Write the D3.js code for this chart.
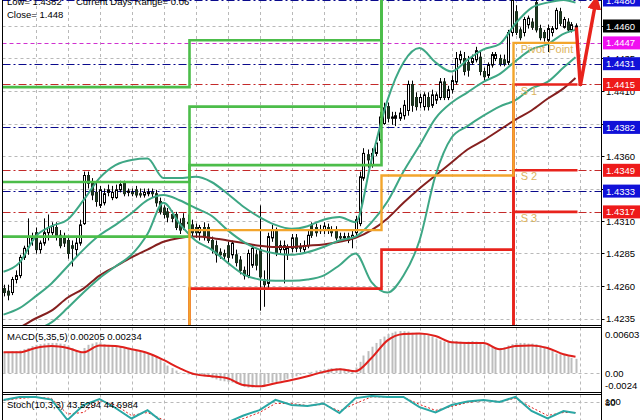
<!DOCTYPE html>
<html><head><meta charset="utf-8">
<script src="https://cdn.jsdelivr.net/npm/d3@7"></script>
<style>
html,body{margin:0;padding:0;background:#fff;overflow:hidden;}
svg{display:block;font-family:"Liberation Sans",Arial,sans-serif;}
</style></head><body>
<svg id="c" width="640" height="420"></svg>
<script>
// ---------- DATA ----------
const opens = [1.4258,1.4256,1.4255,1.4265,1.4268,1.4282,1.4290,1.4295,1.4301,1.4288,
1.4293,1.4301,1.4301,1.4305,1.4299,1.4297,1.4295,1.4291,1.4288,1.4293,
1.4308,1.4345,1.4339,1.4332,1.4322,1.4324,1.4332,1.4328,1.4328,1.4334,
1.4339,1.4332,1.4332,1.4334,1.4331,1.4330,1.4331,1.4332,1.4331,1.4325,
1.4320,1.4317,1.4315,1.4315,1.4308,1.4312,1.4309,1.4307,1.4305,1.4301,
1.4305,1.4305,1.4295,1.4291,1.4286,1.4285,1.4291,1.4284,1.4284,1.4280,
1.4272,1.4268,1.4276,1.4284,1.4288,1.4265,1.4262,1.4297,1.4303,1.4288,
1.4288,1.4284,1.4289,1.4297,1.4290,1.4288,1.4291,1.4307,1.4305,1.4303,
1.4303,1.4305,1.4303,1.4303,1.4298,1.4297,1.4298,1.4297,1.4301,1.4308,
1.4343,1.4361,1.4353,1.4362,1.4372,1.4385,1.4398,1.4389,1.4389,1.4389,
1.4391,1.4395,1.4415,1.4405,1.4401,1.4398,1.4405,1.4399,1.4403,1.4405,
1.4417,1.4405,1.4411,1.4417,1.4434,1.4435,1.4432,1.4432,1.4434,1.4436,
1.4425,1.4422,1.4430,1.4435,1.4435,1.4434,1.4432,1.4455,1.4471,1.4457,
1.4455,1.4461,1.4463,1.4478,1.4458,1.4455,1.4449,1.4455,1.4458,1.4471,
1.4459,1.4463,1.4457,1.4459];
const highs = [1.4261,1.4261,1.4267,1.4272,1.4284,1.4291,1.4312,1.4301,1.4305,1.4295,
1.4312,1.4315,1.4309,1.4309,1.4303,1.4301,1.4298,1.4295,1.4297,1.4311,
1.4348,1.4348,1.4343,1.4340,1.4337,1.4335,1.4338,1.4337,1.4338,1.4341,
1.4341,1.4335,1.4335,1.4337,1.4335,1.4335,1.4335,1.4335,1.4334,1.4328,
1.4322,1.4320,1.4318,1.4317,1.4312,1.4316,1.4315,1.4311,1.4308,1.4307,
1.4309,1.4308,1.4298,1.4295,1.4289,1.4288,1.4294,1.4295,1.4288,1.4283,
1.4275,1.4288,1.4292,1.4288,1.4322,1.4272,1.4301,1.4307,1.4305,1.4295,
1.4295,1.4292,1.4300,1.4300,1.4293,1.4295,1.4303,1.4309,1.4308,1.4307,
1.4309,1.4308,1.4306,1.4306,1.4301,1.4301,1.4301,1.4303,1.4314,1.4348,
1.4366,1.4365,1.4366,1.4374,1.4394,1.4401,1.4401,1.4394,1.4394,1.4397,
1.4403,1.4418,1.4418,1.4409,1.4408,1.4409,1.4409,1.4411,1.4409,1.4420,
1.4420,1.4414,1.4422,1.4440,1.4441,1.4440,1.4437,1.4438,1.4444,1.4440,
1.4428,1.4432,1.4440,1.4440,1.4438,1.4438,1.4457,1.4488,1.4476,1.4459,
1.4467,1.4468,1.4466,1.4488,1.4461,1.4457,1.4461,1.4460,1.4474,1.4474,
1.4467,1.4466,1.4463,1.4462];
const lows = [1.4252,1.4249,1.4253,1.4262,1.4266,1.4280,1.4284,1.4291,1.4285,1.4285,
1.4291,1.4295,1.4299,1.4295,1.4289,1.4290,1.4281,1.4275,1.4283,1.4291,
1.4307,1.4335,1.4326,1.4321,1.4320,1.4322,1.4329,1.4326,1.4327,1.4332,
1.4329,1.4329,1.4329,1.4328,1.4328,1.4328,1.4329,1.4328,1.4321,1.4315,
1.4312,1.4309,1.4309,1.4303,1.4300,1.4303,1.4303,1.4298,1.4297,1.4295,
1.4295,1.4293,1.4285,1.4278,1.4281,1.4280,1.4278,1.4281,1.4275,1.4269,
1.4265,1.4266,1.4274,1.4272,1.4241,1.4244,1.4258,1.4294,1.4283,1.4285,
1.4262,1.4280,1.4286,1.4286,1.4286,1.4285,1.4289,1.4297,1.4298,1.4300,
1.4300,1.4300,1.4298,1.4295,1.4294,1.4295,1.4293,1.4289,1.4298,1.4306,
1.4341,1.4351,1.4351,1.4360,1.4370,1.4384,1.4386,1.4384,1.4383,1.4387,
1.4388,1.4391,1.4394,1.4395,1.4397,1.4395,1.4395,1.4397,1.4400,1.4403,
1.4403,1.4403,1.4408,1.4415,1.4431,1.4422,1.4421,1.4430,1.4432,1.4422,
1.4418,1.4420,1.4428,1.4433,1.4429,1.4429,1.4430,1.4452,1.4453,1.4449,
1.4452,1.4458,1.4457,1.4455,1.4449,1.4448,1.4440,1.4452,1.4457,1.4460,
1.4458,1.4455,1.4455,1.4457];
const closes = [1.4255,1.4253,1.4265,1.4268,1.4282,1.4289,1.4298,1.4297,1.4288,1.4293,
1.4301,1.4305,1.4306,1.4298,1.4291,1.4293,1.4285,1.4289,1.4293,1.4307,
1.4345,1.4339,1.4330,1.4325,1.4334,1.4331,1.4334,1.4332,1.4334,1.4338,
1.4331,1.4333,1.4331,1.4330,1.4330,1.4332,1.4332,1.4331,1.4324,1.4317,
1.4315,1.4313,1.4312,1.4305,1.4303,1.4305,1.4308,1.4301,1.4301,1.4305,
1.4298,1.4295,1.4288,1.4284,1.4284,1.4283,1.4282,1.4293,1.4278,1.4272,
1.4268,1.4285,1.4289,1.4276,1.4267,1.4261,1.4298,1.4303,1.4285,1.4291,
1.4291,1.4289,1.4297,1.4289,1.4289,1.4291,1.4299,1.4299,1.4301,1.4303,
1.4306,1.4303,1.4301,1.4297,1.4297,1.4298,1.4295,1.4299,1.4311,1.4344,
1.4362,1.4357,1.4362,1.4370,1.4390,1.4397,1.4389,1.4390,1.4391,1.4393,
1.4399,1.4415,1.4399,1.4398,1.4405,1.4407,1.4398,1.4407,1.4407,1.4417,
1.4405,1.4411,1.4418,1.4435,1.4438,1.4425,1.4426,1.4435,1.4441,1.4425,
1.4421,1.4430,1.4438,1.4438,1.4431,1.4431,1.4455,1.4480,1.4455,1.4451,
1.4465,1.4466,1.4459,1.4457,1.4451,1.4451,1.4458,1.4458,1.4472,1.4462,
1.4465,1.4457,1.4461,1.4460];

// indicator readings, taken every 4th bar
const sampleBars = [0,4,8,12,16,20,24,28,32,36,40,44,48,52,56,60,64,68,72,76,80,84,88,92,96,100,104,108,112,116,120,124,128,132,136,140,143];
const bbUpper = [1.4271,1.4278,1.4298,1.4306,1.4311,1.4326,1.4343,1.4353,1.4357,1.4358,1.4343,1.4343,1.4344,1.4340,1.4331,1.4321,1.4313,1.4307,1.4304,1.4306,1.4311,1.4313,1.4309,1.4357,1.4403,1.4432,1.4443,1.4432,1.4425,1.4434,1.4442,1.4446,1.4462,1.4474,1.4478,1.4480,1.4478];
const bbMiddle = [1.4238,1.4243,1.4252,1.4262,1.4275,1.4288,1.4299,1.4307,1.4316,1.4326,1.4330,1.4326,1.4320,1.4314,1.4303,1.4294,1.4288,1.4285,1.4284,1.4286,1.4290,1.4295,1.4298,1.4309,1.4325,1.4348,1.4368,1.4389,1.4401,1.4409,1.4417,1.4423,1.4433,1.4442,1.4446,1.4454,1.4457];
const bbLower = [1.4215,1.4220,1.4226,1.4232,1.4243,1.4255,1.4266,1.4275,1.4284,1.4300,1.4324,1.4308,1.4295,1.4288,1.4278,1.4269,1.4265,1.4264,1.4264,1.4265,1.4268,1.4276,1.4285,1.4263,1.4255,1.4268,1.4295,1.4345,1.4374,1.4383,1.4391,1.4398,1.4403,1.4412,1.4417,1.4428,1.4436];
const maSlow = [1.4222,1.4228,1.4235,1.4241,1.4251,1.4258,1.4268,1.4275,1.4282,1.4288,1.4294,1.4297,1.4298,1.4297,1.4295,1.4293,1.4291,1.4290,1.4290,1.4291,1.4292,1.4294,1.4297,1.4303,1.4312,1.4324,1.4335,1.4345,1.4355,1.4365,1.4372,1.4380,1.4388,1.4395,1.4404,1.4412,1.4420];

const macdHist = [0.00297,0.00306,0.00315,0.00315,0.00324,0.00342,0.00360,0.00387,0.00405,0.00414,
0.00423,0.00432,0.00432,0.00432,0.00423,0.00414,0.00396,0.00360,0.00324,0.00306,
0.00360,0.00405,0.00423,0.00441,0.00441,0.00414,0.00405,0.00396,0.00387,0.00378,
0.00369,0.00360,0.00342,0.00333,0.00315,0.00306,0.00288,0.00261,0.00234,0.00198,
0.00153,0.00108,0.00072,0.00036,0.00009,-0.00009,-0.00018,-0.00027,-0.00027,-0.00036,
-0.00045,-0.00054,-0.00072,-0.00090,-0.00108,-0.00117,-0.00126,-0.00135,-0.00153,-0.00171,
-0.00198,-0.00207,-0.00207,-0.00198,-0.00189,-0.00171,-0.00144,-0.00135,-0.00126,-0.00108,
-0.00099,-0.00081,-0.00063,-0.00045,-0.00027,-0.00009,0.00009,0.00018,0.00036,0.00045,
0.00054,0.00063,0.00072,0.00072,0.00072,0.00063,0.00054,0.00045,0.00081,0.00162,
0.00252,0.00315,0.00378,0.00432,0.00487,0.00523,0.00559,0.00577,0.00595,0.00603,
0.00600,0.00595,0.00577,0.00577,0.00568,0.00559,0.00541,0.00523,0.00496,0.00469,
0.00451,0.00451,0.00460,0.00460,0.00451,0.00441,0.00451,0.00460,0.00451,0.00432,
0.00414,0.00396,0.00378,0.00369,0.00360,0.00369,0.00396,0.00414,0.00432,0.00432,
0.00432,0.00423,0.00423,0.00414,0.00396,0.00378,0.00360,0.00315,0.00279,0.00270,
0.00261,0.00240,0.00220,0.00205];
const macdSignal = [0.00297,0.00297,0.00360,0.00387,0.00360,0.00297,0.00396,0.00387,0.00342,0.00288,0.00189,0.00072,-0.00018,-0.00045,-0.00072,-0.00171,-0.00189,-0.00144,-0.00099,-0.00045,0.00018,0.00054,0.00027,0.00216,0.00469,0.00559,0.00568,0.00532,0.00441,0.00432,0.00432,0.00342,0.00387,0.00396,0.00360,0.00270,0.00234];
const stochMain = [87,97,97,88,20,70,90,60,25,53,10,8,10,5,12,35,53,87,70,67,75,43,93,100,97,97,63,45,70,82,87,80,97,50,25,50,43.5294];
const stochSignal = [85,92,96,92,40,45,85,70,35,45,20,10,10,7,10,25,45,75,75,68,72,50,75,97,97,96,72,52,65,78,85,82,92,62,35,45,44.6984];

// daily pivot levels (day start bar, then level per day)
const dayStartBars = [-48, 47, 95, 128];
const lastBar = 143;
const pivR3 = [1.4413, 1.4449, 1.4575, 1.4545];
const pivR2 = [1.4340, 1.4398, 1.4530, 1.4510];
const pivR1 = [1.4298, 1.4353, 1.4495, 1.4490];
const pivPP = [1.4195, 1.4303, 1.4345, 1.4447];
const pivS1 = [1.4170, 1.4258, 1.4288, 1.4415];
const pivS2 = [1.4140, 1.4215, 1.4225, 1.4349];
const pivS3 = [1.4110, 1.4180, 1.4200, 1.4317];
const pivLabels = ["Pivot Point", "S 1", "S 2", "S 3"];

const levelsBlue = [1.4480, 1.4431, 1.4382, 1.4333];
const levelsRed = [1.4415, 1.4349, 1.4317];
const levelsMagenta = [1.4447];
const priceTicks = [1.4235, 1.4260, 1.4285, 1.4310, 1.4335, 1.4360, 1.4385, 1.4410, 1.4435, 1.4460];
const markerPrices = [1.4480, 1.4460, 1.4447, 1.4431, 1.4415, 1.4382, 1.4349, 1.4333, 1.4317];
const markerKinds  = ["blue", "black", "magenta", "blue", "red", "blue", "red", "blue", "red"];
const macdTicks = [0.00603, 0.00, -0.0024];
const macdTickText = ["0.00603", "0.00", "-0.0024"];
const stochTicks = [100, 80];
const arrowBars = [143.2, 144.2, 147.9];
const arrowPrices = [1.4459, 1.4414, 1.4476];
const infoLine1 = ["Low= 1.4382", "Current Days Range= 0.06"];
const infoLine2 = "Close= 1.448";
const macdTitle = "MACD(5,35,5) 0.00205 0.00234";
const stochTitle = "Stoch(10,3,3) 43.5294 44.6984";

// ---------- DRAW ----------
const svg = d3.select("#c");
const L = 2.5, R = 601.5;
const P = {top: 0, bot: 325}, M = {top: 327.5, bot: 392.5}, S = {top: 394.5, bot: 430};

const x = d3.scaleLinear().domain([0, 150]).range([3.5, 603.5]);
const y = d3.scaleLinear().domain([1.4230, 1.4480]).range([325, 0]);
const ym = d3.scaleLinear().domain([-0.0027, 0.0066]).range([392, 327]);
const ys = d3.scaleLinear().domain([0, 100]).range([426, 396]);

const defs = svg.append("defs");
function clip(id, t, b) {
  defs.append("clipPath").attr("id", id).append("rect")
    .attr("x", L).attr("y", t).attr("width", R - L).attr("height", b - t);
}
clip("cp", -5, P.bot); clip("cm", M.top, M.bot); clip("cs", S.top, 420);
defs.append("marker").attr("id", "ah").attr("viewBox", "0 0 10 10")
  .attr("refX", 3).attr("refY", 5).attr("markerWidth", 4).attr("markerHeight", 4)
  .attr("orient", "auto").attr("markerUnits", "strokeWidth")
  .append("path").attr("d", "M0,0 L10,5 L0,10 z").attr("fill", "#e8231c");

const gridCol = "#b9b9b9";
const gridBars = d3.range(8, 145, 8);

// main panel
const gp = svg.append("g").attr("clip-path", "url(#cp)");
gp.append("g").selectAll("line").data(priceTicks).join("line")
  .attr("x1", L).attr("x2", R).attr("y1", d => Math.round(y(d)) + 0.5).attr("y2", d => Math.round(y(d)) + 0.5)
  .attr("stroke", gridCol).attr("stroke-dasharray", "3,3");
gp.append("g").selectAll("line").data(gridBars).join("line")
  .attr("x1", d => Math.round(x(d)) + 0.5).attr("x2", d => Math.round(x(d)) + 0.5)
  .attr("y1", P.top).attr("y2", P.bot).attr("stroke", gridCol).attr("stroke-dasharray", "3,3");

function hl(vals, col, dash) {
  gp.append("g").selectAll("line").data(vals).join("line")
    .attr("x1", L).attr("x2", R)
    .attr("y1", d => Math.round(y(d)) + 0.5).attr("y2", d => Math.round(y(d)) + 0.5)
    .attr("stroke", col).attr("stroke-width", 1).attr("stroke-dasharray", dash);
}
hl(levelsBlue, "#0a0a8c", "8,3,2,3");
hl(levelsRed, "#c42a2a", "8,3,2,3");
hl(levelsMagenta, "#d030d0", "4,3");

// candles
const bars = d3.range(closes.length);
const cg = gp.append("g");
cg.append("g").selectAll("line").data(bars).join("line")
  .attr("x1", i => Math.round(x(i)) + 0.5).attr("x2", i => Math.round(x(i)) + 0.5)
  .attr("y1", i => y(highs[i])).attr("y2", i => y(lows[i]))
  .attr("stroke", "#000").attr("stroke-width", 1);
cg.append("g").selectAll("rect").data(bars).join("rect")
  .attr("x", i => Math.round(x(i)) - 0.5).attr("width", 2)
  .attr("y", i => Math.min(y(opens[i]), y(closes[i])))
  .attr("height", i => Math.max(0.6, Math.abs(y(opens[i]) - y(closes[i]))))
  .attr("fill", i => closes[i] >= opens[i] ? "#fff" : "#1f3b22")
  .attr("stroke", i => closes[i] >= opens[i] ? "#000" : "#1a2e1c").attr("stroke-width", 1);

// bands and MA
function curve(vals, col, w, g, sc) {
  const pts = sampleBars.map((b, k) => [b, vals[k]]);
  g.append("path").datum(pts)
    .attr("d", d3.line().x(d => x(d[0])).y(d => sc(d[1])).curve(d3.curveMonotoneX))
    .attr("fill", "none").attr("stroke", col).attr("stroke-width", w).attr("stroke-linejoin", "round");
}
curve(maSlow, "#85201f", 2, gp, y);
curve(bbUpper, "#3ea785", 2, gp, y);
curve(bbMiddle, "#3ea785", 2, gp, y);
curve(bbLower, "#3ea785", 2, gp, y);

// pivot step lines
function steps(vals, col, w) {
  const pts = dayStartBars.map((b, k) => [b - 0.5, vals[k]]);
  pts.push([lastBar + 0.5, vals[vals.length - 1]]);
  gp.append("path").datum(pts)
    .attr("d", d3.line().x(d => x(d[0])).y(d => y(d[1])).curve(d3.curveStepAfter))
    .attr("fill", "none").attr("stroke", col).attr("stroke-width", w);
}
steps(pivR3, "#4cbd4a", 2.6); steps(pivR2, "#4cbd4a", 2.6); steps(pivR1, "#4cbd4a", 2.6);
steps(pivS3, "#e8231c", 2.6); steps(pivS2, "#e8231c", 2.6); steps(pivS1, "#e8231c", 2.6);
steps(pivPP, "#f3a52c", 2.4);

const lastDay = dayStartBars.length - 1;
const labLevels = [pivPP[lastDay], pivS1[lastDay], pivS2[lastDay], pivS3[lastDay]];
gp.append("g").selectAll("text").data(labLevels).join("text")
  .attr("x", x(dayStartBars[lastDay] + 1.3)).attr("y", d => y(d) + 10)
  .attr("font-size", 11).attr("fill", "#dcb45e").text((d, k) => pivLabels[k]);

// arrow
const arr = arrowBars.map((b, k) => [b, arrowPrices[k]]);
svg.append("path").datum(arr)
  .attr("d", d3.line().x(d => x(d[0])).y(d => y(d[1])))
  .attr("fill", "none").attr("stroke", "#e8231c").attr("stroke-width", 3.5)
  .attr("stroke-linejoin", "miter").attr("marker-end", "url(#ah)");

// info text
svg.append("text").attr("x", 7).attr("y", 5).attr("font-size", 9.5).text(infoLine1[0]);
svg.append("text").attr("x", 76).attr("y", 5).attr("font-size", 9.5).text(infoLine1[1]);
svg.append("text").attr("x", 7).attr("y", 18).attr("font-size", 9.5).text(infoLine2);

// MACD panel
const gm = svg.append("g").attr("clip-path", "url(#cm)");
gm.append("g").selectAll("line").data(gridBars).join("line")
  .attr("x1", d => Math.round(x(d)) + 0.5).attr("x2", d => Math.round(x(d)) + 0.5)
  .attr("y1", M.top).attr("y2", M.bot).attr("stroke", gridCol).attr("stroke-dasharray", "3,3");
gm.append("line").attr("x1", L).attr("x2", R).attr("y1", Math.round(ym(0)) + 0.5).attr("y2", Math.round(ym(0)) + 0.5)
  .attr("stroke", gridCol).attr("stroke-dasharray", "3,3");
gm.append("g").selectAll("rect").data(bars).join("rect")
  .attr("x", i => Math.round(x(i)) - 0.5).attr("width", 2)
  .attr("y", i => Math.min(ym(0), ym(macdHist[i])))
  .attr("height", i => Math.abs(ym(0) - ym(macdHist[i])))
  .attr("fill", "#bdbdbd");
curve(macdSignal, "#e0201c", 2, gm, ym);
svg.append("text").attr("x", 7).attr("y", 340).attr("font-size", 9.5).text(macdTitle);

// Stoch panel
const gs = svg.append("g").attr("clip-path", "url(#cs)");
gs.append("g").selectAll("line").data(gridBars).join("line")
  .attr("x1", d => Math.round(x(d)) + 0.5).attr("x2", d => Math.round(x(d)) + 0.5)
  .attr("y1", S.top).attr("y2", 420).attr("stroke", gridCol).attr("stroke-dasharray", "3,3");
gs.append("line").attr("x1", L).attr("x2", R).attr("y1", Math.round(ys(80)) + 0.5).attr("y2", Math.round(ys(80)) + 0.5)
  .attr("stroke", gridCol).attr("stroke-dasharray", "3,3");
const stPts = (vals) => sampleBars.map((b, k) => [b, vals[k]]);
gs.append("path").datum(stPts(stochSignal))
  .attr("d", d3.line().x(d => x(d[0])).y(d => ys(d[1])))
  .attr("fill", "none").attr("stroke", "#e0201c").attr("stroke-width", 1).attr("stroke-dasharray", "2,2");
gs.append("path").datum(stPts(stochMain))
  .attr("d", d3.line().x(d => x(d[0])).y(d => ys(d[1])))
  .attr("fill", "none").attr("stroke", "#2aa7a4").attr("stroke-width", 2);
svg.append("text").attr("x", 7).attr("y", 408).attr("font-size", 9.5).text(stochTitle);

// frames
const fr = svg.append("g").attr("fill", "none").attr("stroke", "#000").attr("stroke-width", 1);
fr.append("line").attr("x1", L).attr("x2", L).attr("y1", -1).attr("y2", 421);
fr.append("line").attr("x1", R).attr("x2", R).attr("y1", -1).attr("y2", 421);
fr.append("line").attr("x1", L).attr("x2", R).attr("y1", 325.5).attr("y2", 325.5);
fr.append("line").attr("x1", L).attr("x2", R).attr("y1", M.top).attr("y2", M.top);
fr.append("line").attr("x1", L).attr("x2", R).attr("y1", M.bot).attr("y2", M.bot);
fr.append("line").attr("x1", L).attr("x2", R).attr("y1", S.top).attr("y2", S.top);

// right axis
const ax = svg.append("g").attr("font-size", 9.5);
ax.append("g").selectAll("line").data(priceTicks).join("line")
  .attr("x1", R).attr("x2", R + 3).attr("y1", d => Math.round(y(d)) + 0.5).attr("y2", d => Math.round(y(d)) + 0.5)
  .attr("stroke", "#000");
ax.append("g").selectAll("text").data(priceTicks).join("text")
  .attr("x", 606).attr("y", d => y(d) + 3.5).text(d => d.toFixed(4));
const kindCol = {blue: "#1111d8", black: "#000", magenta: "#f010f0", red: "#ee1a1a"};
const mk = ax.append("g").selectAll("g").data(markerPrices).join("g");
mk.append("rect").attr("x", 603).attr("y", d => y(d) - 6.5).attr("width", 37).attr("height", 13)
  .attr("fill", (d, k) => kindCol[markerKinds[k]]);
mk.append("text").attr("x", 606).attr("y", d => y(d) + 3.5).attr("fill", "#fff").text(d => d.toFixed(4));

const mClamp = v => Math.max(M.top + 7, Math.min(M.bot - 7, ym(v)));
ax.append("g").selectAll("text").data(macdTicks).join("text")
  .attr("x", 605).attr("y", d => mClamp(d) + 3.5).text((d, k) => macdTickText[k]);
ax.append("g").selectAll("text").data(stochTicks).join("text")
  .attr("x", 605).attr("y", d => Math.max(S.top + 7, ys(d)) + 3.5).text(d => d);
</script>
</body></html>
